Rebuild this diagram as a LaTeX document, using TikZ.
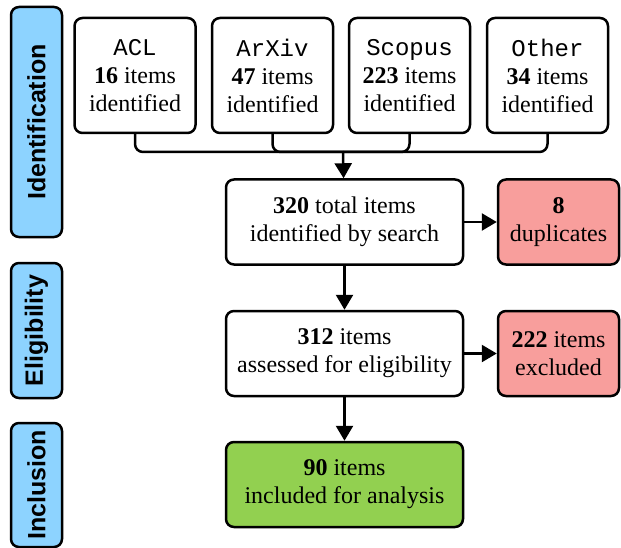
\documentclass[tikz,border=0pt]{standalone}
\usepackage{fontspec}
\setmainfont{Liberation Serif}
\setsansfont{Liberation Sans}
\setmonofont{Liberation Mono}
\usetikzlibrary{arrows.meta}

\definecolor{phaseblue}{HTML}{8DD3FF}
\definecolor{dropred}{HTML}{F89E9C}
\definecolor{keepgreen}{HTML}{92D050}

\tikzset{
  box/.style={draw, line width=2.5pt, rounded corners=8pt, fill=white,
    align=center, inner sep=0pt, font=\fontsize{24}{28}\selectfont},
  phase/.style={draw, line width=2.5pt, rounded corners=8pt, fill=phaseblue,
    rotate=90, minimum height=51pt, inner sep=0pt,
    font=\fontsize{25}{30}\selectfont\sffamily\bfseries},
  arrow/.style={line width=2.5pt, -{Triangle[length=15pt,width=17pt]}},
  bracket/.style={line width=2.5pt, rounded corners=8pt}
}

\begin{document}
\begin{tikzpicture}[x=1pt, y=-1pt]
    \useasboundingbox (0,0) rectangle (621,548);

    % phases
    \node[phase, minimum width=230pt] (ident) at (36.5,122) {Identification};
    \node[phase, minimum width=135pt] (elig) at (36.5,330.5) {Eligibility};
    \node[phase, minimum width=124pt] (incl) at (36.5,485) {Inclusion};

    % sources
    \node[box, minimum width=121pt, minimum height=115pt] (acl) at (135,75.5)
        {\texttt{ACL}\\\textbf{16} items\\identified};
    \node[box, minimum width=121pt, minimum height=115pt] (arxiv) at (272.5,75.5)
        {\texttt{ArXiv}\\\textbf{47} items\\identified};
    \node[box, minimum width=121pt, minimum height=115pt] (scopus) at (409.5,75.5)
        {\texttt{Scopus}\\\textbf{223} items\\identified};
    \node[box, minimum width=121pt, minimum height=115pt] (other) at (547.5,75.5)
        {\texttt{Other}\\\textbf{34} items\\identified};
    \coordinate (merge) at (343,152);

    % screening
    \node[box, minimum width=237pt, minimum height=85pt] (total) at (344.5,222)
        {\textbf{320} total items\\identified by search};
    \node[box, fill=dropred, minimum width=121pt, minimum height=85pt] (dup) at (558.5,222)
        {\textbf{8}\\duplicates};
    \node[box, minimum width=237pt, minimum height=85pt] (assess) at (344.5,353.5)
        {\textbf{312} items\\assessed for eligibility};
    \node[box, fill=dropred, minimum width=121pt, minimum height=85pt] (excl) at (558.5,353.5)
        {\textbf{222} items\\excluded};
    \node[box, fill=keepgreen, minimum width=237pt, minimum height=85pt] (final) at (344.5,484.5)
        {\textbf{90} items\\included for analysis};

    % connectors
    \foreach \src in {acl,arxiv,scopus,other}
        \draw[bracket] (\src.south) |- (merge);
    \draw[arrow] (merge) -- (total);
    \draw[arrow] (total) -- (dup);
    \draw[arrow] (total) -- (assess);
    \draw[arrow] (assess) -- (excl);
    \draw[arrow] (assess) -- (final);
\end{tikzpicture}
\end{document}
